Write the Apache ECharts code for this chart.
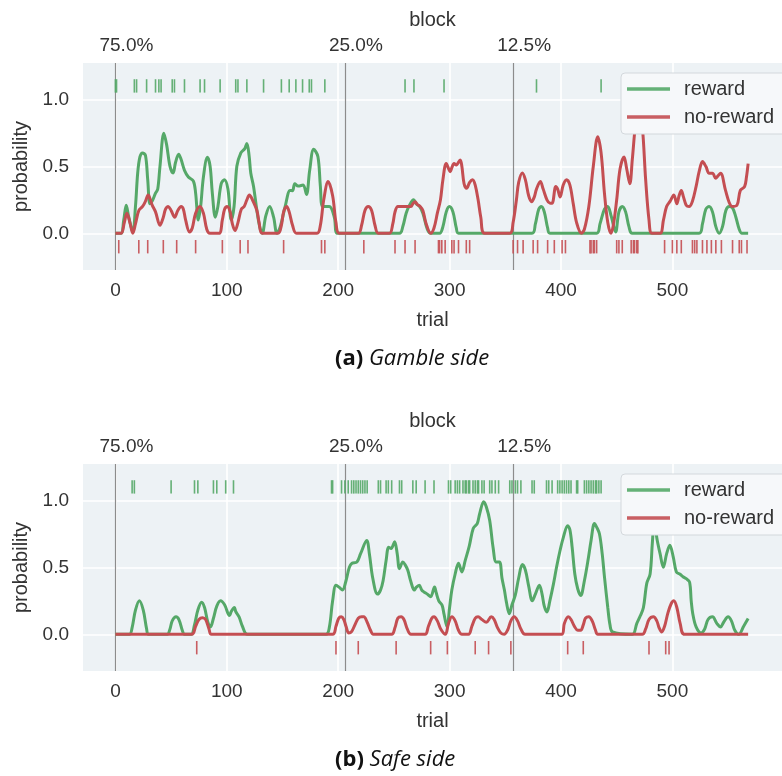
<!DOCTYPE html>
<html>
<head>
<meta charset="utf-8">
<script src="https://cdn.jsdelivr.net/npm/echarts@6/dist/echarts.min.js"></script>
<style>
html,body{margin:0;padding:0;background:#fff;}
#chart{width:782px;height:776px;}
</style>
</head>
<body>
<div id="chart"></div>
<script>
// ---------- data ----------
const blockStarts = [0, 206, 357];
const blockLabels = ['75.0%', '25.0%', '12.5%'];
const seriesNames = ['reward', 'no-reward'];

// (a) Gamble side: smoothed probability curves [trial, probability]
const gambleReward = [
[0,0],[5,0],[7.5,0.1],[9.7,0.21],[12,0.12],[15.6,0.01],[18,0.2],[20,0.45],[22,0.57],[24.4,0.6],[27,0.58],[29,0.4],[31,0.22],[33,0.24],[36,0.3],[38,0.33],[40,0.5],[43.5,0.746],[46,0.66],[49,0.5],[51.8,0.45],[54,0.53],[56.8,0.59],[59,0.55],[62,0.47],[65.5,0.42],[70,0.39],[72,0.3],[74.4,0.1],[76.5,0.2],[79,0.42],[82.6,0.567],[85,0.5],[87,0.3],[89.7,0.12],[92,0.2],[95,0.37],[97.9,0.4],[101,0.33],[104,0.1],[106.5,0.2],[109,0.5],[112.6,0.6],[116,0.63],[118,0.67],[120,0.58],[121.5,0.45],[124,0.35],[127,0.17],[129.5,0.05],[131.8,0],[135,0.13],[138.5,0.2],[142,0.12],[145,0],[148,0.05],[152.4,0.2],[156.8,0.32],[159,0.318],[161,0.37],[164,0.353],[168.5,0.36],[171.5,0.29],[174.4,0.47],[178,0.627],[181.8,0.572],[184,0.35],[186.2,0.2],[192,0.2],[196.5,0.12],[199.4,0],
[255,0],[258,0.05],[261,0.15],[264,0.21],[267.7,0.25],[270,0.22],[273,0.2],[276,0.15],[280,0.03],[283,0],[291,0],[294,0.05],[297,0.16],[299.8,0.2],[303,0.16],[306,0.04],[308,0],
[374,0],[377,0.07],[380,0.18],[382.4,0.2],[385,0.16],[388,0.04],[390,0],
[432,0],[435,0.07],[439,0.18],[441.9,0.2],[445,0.13],[449,0.01],[452,0.16],[455,0.2],[458,0.16],[461,0.05],[464,0],
[524,0],[527,0.07],[530,0.18],[533,0.2],[536,0.16],[539,0.05],[542,0],[545,0.05],[548,0.17],[551,0.2],[554,0.19],[557,0.12],[560,0.03],[562.4,0],[568,0]
];
const gambleNoReward = [
[0,0],[5,0],[8,0.08],[10.3,0.15],[13,0.08],[15.6,0],[18,0.07],[21,0.17],[24.4,0.2],[27,0.24],[29.4,0.286],[31,0.26],[33,0.21],[36,0.16],[40,0.06],[43,0.12],[45,0.18],[47.4,0.2],[50,0.17],[53.2,0.12],[56,0.17],[59,0.2],[61,0.18],[63,0.1],[66.5,0.01],[69,0.04],[72,0.15],[75.9,0.2],[79,0.15],[82,0.03],[84.7,0],[93,0],[96,0.1],[98,0.18],[100.3,0.2],[103,0.16],[105,0.07],[107.4,0.02],[110,0.08],[113,0.18],[115.6,0.2],[118,0.25],[120.3,0.286],[123,0.25],[127,0.17],[129,0.08],[131.8,0],[146,0],[149,0.06],[151,0.16],[153.8,0.2],[156,0.16],[159,0.06],[162.6,0],[181,0],[184,0.06],[187,0.25],[191,0.386],[195,0.28],[198,0.08],[201,0],
[218,0],[221,0.06],[224,0.17],[227,0.2],[230,0.17],[233,0.06],[236,0],[246,0],[249,0.07],[251,0.16],[253.6,0.2],[258,0.2],[262,0.2],[265.3,0.2],[267,0.22],[269,0.236],[271,0.215],[273.6,0.2],[276,0.17],[279,0.07],[283,0],[286,0.04],[289,0.15],[291.8,0.25],[294,0.4],[297,0.52],[300.6,0.46],[302,0.49],[304,0.52],[306,0.51],[309.5,0.547],[311,0.5],[313,0.37],[315.3,0.336],[318,0.38],[320.6,0.4],[323,0.36],[325.6,0.25],[328,0.12],[331.5,0],
[354,0],[357,0.08],[360,0.25],[362,0.38],[365.3,0.45],[368,0.4],[371,0.28],[373.6,0.236],[376,0.27],[378,0.33],[381.5,0.386],[384,0.33],[387.4,0.25],[390,0.225],[392,0.224],[395.3,0.35],[397,0.33],[399.2,0.27],[402,0.36],[405,0.4],[408,0.36],[411,0.22],[414,0.08],[418.3,0],
[421,0.03],[425,0.2],[429,0.5],[433,0.72],[436,0.6],[439,0.3],[442,0.08],[444.8,0],[447,0.06],[450,0.25],[453,0.48],[456.6,0.57],[459,0.48],[461.8,0.37],[464,0.55],[467,0.82],[470,0.95],[473,0.8],[476,0.4],[479,0.1],[481.6,0],[489,0],[492,0.1],[494.8,0.2],[498,0.24],[501.3,0.286],[504,0.22],[506,0.28],[508,0.32],[510,0.27],[512.4,0.21],[515,0.2],[518,0.24],[521.3,0.35],[524,0.46],[527.1,0.535],[530.1,0.498],[533,0.448],[536,0.448],[538.9,0.41],[541,0.43],[543.3,0.448],[547.7,0.32],[551,0.23],[553.6,0.2],[558,0.21],[561,0.32],[564.8,0.348],[566.5,0.42],[568,0.52]
];
const gambleRewardTrials = [0,1,17,19,28,36,39,41,51,53,62,76,80,94,108,110,118,133,149,156,162,168,174,176,188,260,268,295,378,436];
const gambleNoRewardTrials = [3,21,29,43,55,72,96,112,119,151,185,188,223,251,260,269,290,291,293,296,302,304,308,315,318,357,361,366,375,379,388,394,401,404,426,427,429,430,432,450,452,455,463,465,466,468,469,493,500,504,508,518,520,522,527,531,535,539,544,554,560,562,567];

// (b) Safe side
const safeReward = [
[0,0],[12.6,0],[15,0.05],[18,0.18],[21.5,0.25],[25,0.18],[28,0.04],[29.7,0],[46.5,0],[49,0.04],[51,0.1],[54.4,0.13],[57,0.11],[60,0.03],[62,0],[68,0],[71,0.07],[74,0.18],[77.4,0.24],[80,0.2],[83,0.09],[85.3,0.055],[88,0.12],[91,0.21],[94.4,0.25],[98,0.22],[102.4,0.14],[104,0.17],[106.8,0.2],[108,0.17],[111,0.13],[114,0.06],[118.5,0],
[189,0],[192,0.05],[195,0.25],[198,0.366],[201,0.35],[203.8,0.33],[207,0.4],[210,0.5],[212.4,0.53],[216.8,0.54],[220,0.6],[225.6,0.7],[228,0.6],[231,0.42],[235.3,0.3],[238,0.33],[240.3,0.4],[243,0.55],[245.3,0.65],[247.5,0.64],[250.6,0.69],[253,0.6],[255,0.49],[258,0.54],[260,0.52],[262.4,0.48],[265,0.4],[268.3,0.33],[270,0.35],[272.7,0.366],[275,0.33],[277,0.316],[280,0.3],[283,0.28],[286.5,0.353],[288,0.31],[290.3,0.25],[293.3,0.216],[295,0.15],[297.7,0.055],[300,0.2],[302,0.33],[305,0.45],[308,0.53],[311,0.465],[314,0.55],[317.7,0.66],[321.2,0.79],[324.8,0.826],[327,0.9],[330.6,0.99],[333,0.95],[336,0.85],[339,0.65],[341.8,0.54],[344.8,0.54],[347,0.42],[349.2,0.33],[351,0.24],[353.6,0.154],[356,0.22],[358.9,0.29],[362,0.42],[365.3,0.52],[368,0.48],[371,0.36],[374.2,0.25],[377,0.3],[380.6,0.366],[383,0.3],[385,0.21],[387.4,0.167],[390,0.25],[393.3,0.378],[396,0.5],[399.2,0.627],[402,0.72],[406,0.81],[408,0.78],[410,0.65],[412.4,0.45],[415,0.34],[417.7,0.29],[421,0.4],[424.2,0.55],[427,0.7],[430,0.826],[432,0.8],[434.5,0.75],[437,0.6],[439,0.43],[442,0.2],[444,0.07],[446.3,0.017],
[464,0],[468,0.08],[471.3,0.14],[474,0.2],[477,0.38],[480,0.45],[482,0.68],[484,0.88],[486,0.72],[489,0.6],[491.9,0.5],[494.8,0.6],[497.7,0.664],[500.7,0.58],[503.6,0.465],[506.6,0.45],[509.5,0.43],[512.4,0.415],[515.4,0.39],[516.9,0.25],[518.3,0.154],[521.3,0.055],[525.7,0.01],[529,0.04],[532,0.11],[536,0.13],[540,0.08],[543.3,0.055],[546,0.09],[550,0.13],[553,0.1],[556,0.03],[559.5,0],[564,0.06],[568,0.117]
];
const safeNoReward = [
[0,0],[68.5,0],[72,0.06],[75,0.11],[78.2,0.124],[81,0.11],[84,0.04],[86.2,0],[195,0],[198,0.06],[200.5,0.12],[202.7,0.13],[205,0.11],[207,0.06],[209.5,0.01],[212,0.02],[215,0.07],[218,0.12],[221,0.13],[223,0.13],[226,0.09],[229,0.03],[231.5,0],[248,0],[251,0.05],[253.5,0.12],[256.5,0.13],[259,0.11],[262,0.04],[265.3,0],[278,0],[281,0.06],[284,0.12],[286,0.13],[289,0.1],[292,0.04],[296.2,0],[299,0.08],[302,0.13],[305,0.1],[308,0.03],[311,0],[317,0],[320,0.06],[323,0.12],[325.6,0.13],[329,0.11],[333,0.09],[337.4,0.13],[340,0.11],[343,0.05],[346,0.01],[349,0],[352,0.03],[355,0.1],[358,0.13],[361,0.1],[364,0.04],[367.7,0],[400.6,0],[403,0.08],[406.5,0.13],[409,0.11],[412,0.06],[415,0.03],[417.7,0.03],[420,0.07],[422,0.12],[425,0.13],[428,0.1],[431,0.03],[433,0],[473,0],[476,0.04],[479,0.11],[483,0.13],[486,0.1],[488,0.05],[490.4,0.017],[493,0.06],[496,0.16],[499,0.23],[501.3,0.25],[504,0.2],[507,0.08],[511,0],[568,0]
];
const safeRewardTrials = [15,17,50,71,74,88,91,99,106,194,195,203,206,209,212,214,216,218,220,222,224,226,236,238,243,245,248,255,257,267,270,278,286,299,301,305,307,309,312,314,315,317,318,321,323,325,326,329,331,336,338,341,344,354,356,359,361,364,374,376,387,389,392,397,399,401,403,405,407,409,414,415,421,423,425,427,429,431,432,434,436];
const safeNoRewardTrials = [73,198,218,252,283,298,323,335,355,406,420,479,494,497];

const captions = [['(a)', 'Gamble side'], ['(b)', 'Safe side']];

// ---------- styling ----------
const GREEN = '#55a868', RED = '#c44e52';
const BG = '#edf2f5';
const TXT = '#333333';
const FONT = '"Liberation Sans", Arial, sans-serif';
const CAP_FONT = '"Open Sans", "DejaVu Sans", sans-serif';
const RUG_HIGH = 1.1, RUG_LOW = -0.1;
const X_MIN = -29.1, X_MAX = 598.4;
const Y_MIN = -0.274, Y_MAX = 1.271;
const gridTops = [63, 464];

const chart = echarts.init(document.getElementById('chart'), null, {renderer: 'canvas'});

const grids = gridTops.map(t => ({
  left: 83, top: t, width: 711, height: 207,
  show: true, backgroundColor: BG, borderWidth: 0, containLabel: false
}));

const xAxes = [], yAxes = [];
gridTops.forEach((t, gi) => {
  xAxes.push({
    type: 'value', gridIndex: gi, position: 'bottom', min: X_MIN, max: X_MAX,
    name: 'trial', nameLocation: 'middle', nameGap: 40,
    nameTextStyle: {fontSize: 20, color: TXT, fontFamily: FONT},
    axisLine: {show: false}, axisTick: {show: false},
    axisLabel: {fontSize: 19, color: TXT, fontFamily: FONT, margin: 11, showMinLabel: false, showMaxLabel: false},
    splitLine: {show: true, showMinLine: false, showMaxLine: false, lineStyle: {color: '#ffffff', width: 1.6}}
  });
  xAxes.push({
    type: 'value', gridIndex: gi, position: 'top', min: X_MIN, max: X_MAX,
    name: 'block', nameLocation: 'middle', nameGap: 33,
    nameTextStyle: {fontSize: 20, color: TXT, fontFamily: FONT},
    axisLine: {show: false}, axisTick: {show: false}, splitLine: {show: false},
    axisLabel: {
      fontSize: 19, color: TXT, fontFamily: FONT, margin: 8,
      customValues: blockStarts,
      padding: [0, 0, 0, 22],
      formatter: v => { const i = blockStarts.indexOf(v); return i >= 0 ? blockLabels[i] : ''; }
    }
  });
  yAxes.push({
    type: 'value', gridIndex: gi, min: Y_MIN, max: Y_MAX, splitNumber: 3,
    name: 'probability', nameLocation: 'middle', nameGap: 41,
    nameTextStyle: {fontSize: 20, color: TXT, fontFamily: FONT},
    axisLine: {show: false}, axisTick: {show: false},
    axisLabel: {fontSize: 19, color: TXT, fontFamily: FONT, margin: 14, showMinLabel: false, showMaxLabel: false,
      formatter: v => v.toFixed(1)},
    splitLine: {show: true, showMinLine: false, showMaxLine: false, lineStyle: {color: '#ffffff', width: 1.6}}
  });
});

function lineSeries(name, data, color, gi, withBlocks) {
  const s = {
    type: 'line', name: name, data: data, xAxisIndex: gi * 2, yAxisIndex: gi,
    showSymbol: false, symbol: 'none', smooth: 0.35, clip: true,
    lineStyle: {color: color, width: 3}, itemStyle: {color: color},
    z: 3, silent: true
  };
  if (withBlocks) {
    s.markLine = {
      silent: true, symbol: ['none', 'none'], label: {show: false},
      lineStyle: {color: '#8c8c8c', width: 1.2, type: 'solid'},
      data: blockStarts.map(v => ({xAxis: v})), z: 1
    };
  }
  return s;
}
function rugSeries(name, trials, yv, color, gi) {
  return {
    type: 'scatter', name: name, xAxisIndex: gi * 2, yAxisIndex: gi,
    data: trials.map(t => [t, yv]), symbol: 'rect', symbolSize: [1.6, 13.4],
    itemStyle: {color: color, opacity: 0.9}, z: 2, silent: true
  };
}

const panels = [
  [gambleReward, gambleNoReward, gambleRewardTrials, gambleNoRewardTrials],
  [safeReward, safeNoReward, safeRewardTrials, safeNoRewardTrials]
];
const series = [];
panels.forEach((p, gi) => {
  series.push(rugSeries(seriesNames[0], p[2], RUG_HIGH, GREEN, gi));
  series.push(rugSeries(seriesNames[1], p[3], RUG_LOW, RED, gi));
  series.push(lineSeries(seriesNames[0], p[0], GREEN, gi, true));
  series.push(lineSeries(seriesNames[1], p[1], RED, gi, false));
});

const legends = [73, 474].map(t => ({
  left: 621, top: t, orient: 'vertical', data: seriesNames.map(n => ({name: n, icon: 'rect'})),
  itemWidth: 43, itemHeight: 3.5, itemGap: 8, selectedMode: false, z: 10, zlevel: 1,
  padding: [6, 14, 7, 6],
  backgroundColor: '#f6f8fa', borderColor: '#d3d8dc', borderWidth: 1, borderRadius: 4,
  textStyle: {fontSize: 20, color: TXT, fontFamily: FONT, padding: [0, 0, 0, 9]}
}));

const titles = captions.map((c, i) => ({
  text: '{b|' + c[0] + '} {i|' + c[1] + '}',
  left: 330, top: i === 0 ? 343 : 744,
  textStyle: {
    fontSize: 22, color: '#111', fontWeight: 'normal', fontFamily: CAP_FONT,
    rich: {
      b: {fontSize: 22, fontWeight: 'bold', color: '#111', fontFamily: CAP_FONT},
      i: {fontSize: 22, fontStyle: 'italic', fontWeight: 'normal', color: '#111', fontFamily: CAP_FONT}
    }
  }
}));

chart.setOption({
  animation: false,
  backgroundColor: '#ffffff',
  title: titles,
  grid: grids,
  xAxis: xAxes,
  yAxis: yAxes,
  legend: legends,
  series: series
});
</script>
</body>
</html>
